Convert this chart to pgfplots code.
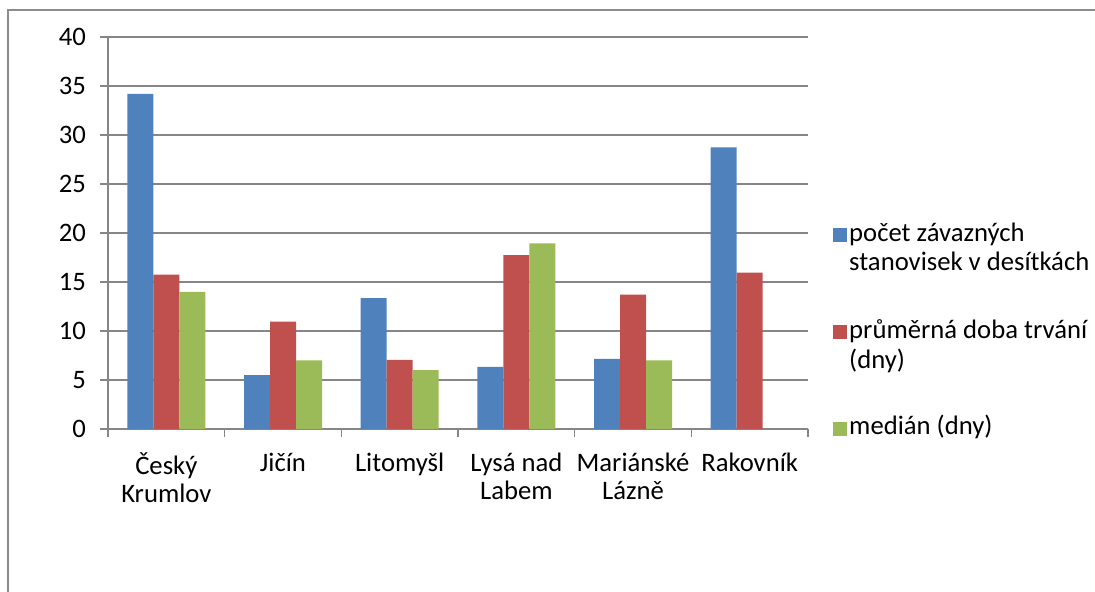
\documentclass[border=0pt]{standalone}
\usepackage{fontspec}
\setmainfont{Carlito}
\usepackage{pgfplots}
\pgfplotsset{compat=1.18}
\definecolor{cblue}{HTML}{4F81BD}
\definecolor{cred}{HTML}{C0504D}
\definecolor{cgreen}{HTML}{9BBB59}
\definecolor{cgrid}{HTML}{868686}
\definecolor{cframe}{HTML}{8C8C8C}
\newcommand{\ml}[2]{\begin{tabular}[t]{@{}l@{}}#1\\#2\end{tabular}}
\begin{document}
\begin{tikzpicture}
\useasboundingbox (-81pt,-122.25pt) rectangle (740.25pt,321.75pt);
\draw[cframe,line width=1pt] (-75pt,-122.25pt) -- (-75pt,314.25pt) -- (740.25pt,314.25pt);
\begin{axis}[
  at={(0,0)}, anchor=south west,
  scale only axis, width=525pt, height=294pt,
  font=\fontsize{20pt}{21pt}\selectfont,
  /pgf/number format/assume math mode=true,
  ybar=0pt, bar width=19.5pt,
  xmin=-0.5, xmax=5.5, ymin=0, ymax=40,
  ytick={0,5,...,40},
  xtick={0,1,2,3,4,5},
  xticklabels={{Český\\Krumlov},{Jičín},{Litomyšl},{Lysá nad\\Labem},{Mariánské\\Lázně},{Rakovník}},
  xticklabel style={align=center, yshift=-8.5pt},
  yticklabel style={xshift=-7pt},
  minor xtick={-0.5,0.5,1.5,2.5,3.5,4.5,5.5},
  major x tick style={draw=none},
  minor x tick style={cgrid, line width=1.2pt},
  major y tick style={cgrid, line width=1.2pt},
  tick align=outside, major tick length=6pt, minor tick length=6pt,
  axis x line*=bottom, axis y line*=left,
  axis line style={cgrid, line width=1.2pt, -},
  ymajorgrids, grid style={cgrid, line width=1.2pt},
  legend style={at={(1.029,0.255)}, anchor=west, draw=none, fill=none,
    font=\fontsize{20pt}{22pt}\selectfont,
    nodes={anchor=base west}, row sep=52pt},
  legend cell align=left,
  legend image code/.code={\fill[#1] (0pt,-0.5pt) rectangle (10.5pt,10pt);},
]
\addplot[fill=cblue, draw=none] coordinates {(0,34.2) (1,5.5) (2,13.35) (3,6.35) (4,7.15) (5,28.75)};
\addplot[fill=cred, draw=none] coordinates {(0,15.75) (1,10.95) (2,7.05) (3,17.75) (4,13.7) (5,15.95)};
\addplot[fill=cgreen, draw=none] coordinates {(0,14.0) (1,7.0) (2,6.0) (3,18.95) (4,7.0)};
\legend{{\ml{počet závazných}{stanovisek v desítkách}},{\ml{průměrná doba trvání}{(dny)}},{medián (dny)}}
\end{axis}
\end{tikzpicture}
\end{document}
